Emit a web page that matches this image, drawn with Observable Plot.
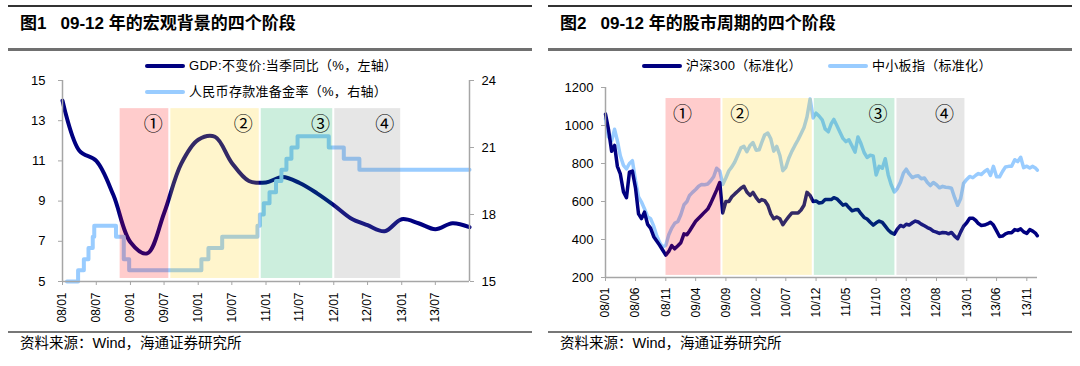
<!DOCTYPE html>
<html><head><meta charset="utf-8">
<script src="https://cdn.jsdelivr.net/npm/d3@7"></script>
<script src="https://cdn.jsdelivr.net/npm/@observablehq/plot@0.6"></script>
<style>
body{margin:0;width:1080px;height:366px;background:#fff;position:relative;overflow:hidden;font-family:"Liberation Sans","Noto Sans CJK SC",sans-serif;color:#000;}
.panel{position:absolute;top:0;width:540px;height:366px;}
.rule-top{position:absolute;left:8px;right:8px;top:5px;height:2px;background:#333;}
.title{position:absolute;left:20px;top:13px;font-weight:bold;font-size:17px;line-height:22px;white-space:nowrap;font-family:"Liberation Sans","Noto Sans CJK SC",sans-serif;}
.title .gap{display:inline-block;width:14px;}
.rule-mid{position:absolute;left:8px;right:8px;top:48px;height:3px;background:#707070;}
.chart{position:absolute;left:0;top:56px;}
.lg-line{position:absolute;width:40px;height:4px;border-radius:2px;}
.lg-text{position:absolute;font-size:13px;line-height:16px;white-space:nowrap;letter-spacing:0.3px;}
.rule-bot{position:absolute;left:8px;right:8px;top:331px;height:2px;background:#777;}
.source{position:absolute;left:20px;top:334px;font-size:14.5px;line-height:18px;white-space:nowrap;font-family:"Liberation Sans","Noto Sans CJK SC",sans-serif;}
</style>
</head><body>
<div class="panel" id="p1" style="left:0">
  <div class="rule-top"></div>
  <div class="title">图1<span class="gap"></span>09-12 年的宏观背景的四个阶段</div>
  <div class="rule-mid"></div>
  <div class="chart" id="c1"></div>
  <div class="lg-line" style="left:145px;top:64px;background:#000080"></div>
  <div class="lg-text" style="left:189px;top:58px">GDP:不变价:当季同比（%，左轴）</div>
  <div class="lg-line" style="left:145px;top:90px;background:#99ccff"></div>
  <div class="lg-text" style="left:189px;top:84px">人民币存款准备金率（%，右轴）</div>
  <div class="rule-bot"></div>
  <div class="source">资料来源：Wind，海通证券研究所</div>
</div>
<div class="panel" id="p2" style="left:540px">
  <div class="rule-top"></div>
  <div class="title">图2<span class="gap"></span>09-12 年的股市周期的四个阶段</div>
  <div class="rule-mid"></div>
  <div class="chart" id="c2"></div>
  <div class="lg-line" style="left:102px;top:64px;background:#000080"></div>
  <div class="lg-text" style="left:146px;top:58px">沪深300（标准化）</div>
  <div class="lg-line" style="left:288px;top:64px;background:#99ccff"></div>
  <div class="lg-text" style="left:332px;top:58px">中小板指（标准化）</div>
  <div class="rule-bot"></div>
  <div class="source">资料来源：Wind，海通证券研究所</div>
</div>
<script>
// ---------- Figure 1 data ----------
const gdpDates = ["2008-01-01","2008-04-01","2008-07-01","2008-10-01","2009-01-01","2009-04-01","2009-07-01","2009-10-01","2010-01-01","2010-04-01","2010-07-01","2010-10-01","2011-01-01","2011-04-01","2011-07-01","2011-10-01","2012-01-01","2012-04-01","2012-07-01","2012-10-01","2013-01-01","2013-04-01","2013-07-01","2013-10-01","2014-01-01"];
const gdpValues = [14.0,11.5,11.0,9.3,6.95,6.4,8.4,10.85,12.05,12.2,10.9,10.0,9.93,10.2,9.9,9.4,8.8,8.15,7.8,7.5,8.1,7.9,7.6,7.9,7.7];
const rrrDates = ["2008-01-25","2008-03-25","2008-04-25","2008-05-20","2008-06-12","2008-06-20","2008-10-15","2008-11-26","2008-12-25","2010-01-18","2010-02-25","2010-05-10","2010-11-16","2010-11-29","2010-12-20","2011-01-20","2011-02-24","2011-03-25","2011-04-21","2011-05-18","2011-06-20","2011-12-05","2012-02-24","2012-05-18","2014-01-01"];
const rrrValues = [15,15.5,16,16.5,17,17.5,17,16,15.5,16,16.5,17,17.5,18,18.5,19,19.5,20,20.5,21,21.5,21,20.5,20,20];
const leftXTicks = ["2008-01-01","2008-07-01","2009-01-01","2009-07-01","2010-01-01","2010-07-01","2011-01-01","2011-07-01","2012-01-01","2012-07-01","2013-01-01","2013-07-01"];
const leftYTicks = [5,7,9,11,13,15];
const rightAxisTicks = [15,18,21,24];
const leftPhaseBounds = ["2008-11-01","2009-08-01","2010-12-01","2012-01-01","2013-01-01"];
const leftLabelDates = ["2009-05-04","2010-09-01","2011-10-21","2012-10-01"];
const leftShade = [5.15, 13.6];
const leftLabelY = 12.8;

// ---------- Figure 2 data ----------
const stockDates = [
 "2008-01-01","2008-01-16","2008-02-01","2008-02-16","2008-03-01","2008-03-16","2008-04-01","2008-04-16","2008-05-01","2008-05-16","2008-06-01","2008-06-16","2008-07-01","2008-07-16","2008-08-01","2008-08-16","2008-09-01","2008-09-16","2008-10-01","2008-10-16","2008-11-01","2008-11-16","2008-12-01","2008-12-16",
 "2009-01-01","2009-01-16","2009-02-01","2009-02-16","2009-03-01","2009-03-16","2009-04-01","2009-04-16","2009-05-01","2009-05-16","2009-06-01","2009-06-16","2009-07-01","2009-07-16","2009-08-01","2009-08-16","2009-09-01","2009-09-16","2009-10-01","2009-10-16","2009-11-01","2009-11-16","2009-12-01","2009-12-16",
 "2010-01-01","2010-01-16","2010-02-01","2010-02-16","2010-03-01","2010-03-16","2010-04-01","2010-04-16","2010-05-01","2010-05-16","2010-06-01","2010-06-16","2010-07-01","2010-07-16","2010-08-01","2010-08-16","2010-09-01","2010-09-16","2010-10-01","2010-10-16","2010-11-01","2010-11-16","2010-12-01","2010-12-16",
 "2011-01-01","2011-01-16","2011-02-01","2011-02-16","2011-03-01","2011-03-16","2011-04-01","2011-04-16","2011-05-01","2011-05-16","2011-06-01","2011-06-16","2011-07-01","2011-07-16","2011-08-01","2011-08-16","2011-09-01","2011-09-16","2011-10-01","2011-10-16","2011-11-01","2011-11-16","2011-12-01","2011-12-16",
 "2012-01-01","2012-01-16","2012-02-01","2012-02-16","2012-03-01","2012-03-16","2012-04-01","2012-04-16","2012-05-01","2012-05-16","2012-06-01","2012-06-16","2012-07-01","2012-07-16","2012-08-01","2012-08-16","2012-09-01","2012-09-16","2012-10-01","2012-10-16","2012-11-01","2012-11-16","2012-12-01","2012-12-16",
 "2013-01-01","2013-01-16","2013-02-01","2013-02-16","2013-03-01","2013-03-16","2013-04-01","2013-04-16","2013-05-01","2013-05-16","2013-06-01","2013-06-16","2013-07-01","2013-07-16","2013-08-01","2013-08-16","2013-09-01","2013-09-16","2013-10-01","2013-10-16","2013-11-01","2013-11-16","2013-12-01","2013-12-16",
 "2013-12-24"];
const hs300Values = [
 1060,980,865,895,785,745,650,620,754,760,
 670,535,510,544,480,460,415,392,370,345,
 318,337,368,351,367,383,430,425,445,470,
 496,512,528,544,560,590,625,660,700,540,
 600,600,625,640,655,670,680,650,632,648,
 620,600,610,605,580,535,509,518,509,478,
 500,520,540,540,540,555,580,648,632,600,
 603,592,595,610,610,610,620,614,597,581,
 586,568,551,556,558,536,516,508,491,476,
 488,497,490,470,450,436,428,455,474,467,
 480,476,488,497,492,481,472,463,456,444,
 439,432,437,436,430,437,418,404,439,470,
 488,512,512,500,484,474,476,482,491,476,
 445,416,418,430,436,436,452,448,456,440,
 432,452,444,432,420];
const smeValues = [
 1035,940,920,980,920,840,790,772,800,815,
 710,625,597,562,520,510,470,420,385,360,
 370,425,460,485,495,530,583,600,632,648,
 663,680,690,688,692,709,730,775,760,690,
 725,762,782,808,846,882,890,862,895,910,
 870,872,910,950,960,930,865,890,842,762,
 780,828,865,895,925,957,990,1045,1140,1040,
 1065,1050,1030,982,967,1010,1032,1000,965,932,
 915,925,892,860,940,905,858,832,843,840,
 740,785,775,825,740,688,650,668,702,750,
 770,745,726,733,735,720,724,700,684,700,
 688,672,680,675,674,670,620,580,614,695,
 716,732,725,738,747,742,758,768,737,785,
 730,730,758,782,785,785,820,810,833,778,
 786,776,785,775,765];
const rightXTicks = ["2008-01-01","2008-06-01","2008-11-01","2009-04-01","2009-09-01","2010-02-01","2010-07-01","2010-12-01","2011-05-01","2011-10-01","2012-03-01","2012-08-01","2013-01-01","2013-06-01","2013-11-01"];
const rightYTicks = [200,400,600,800,1000,1200];
const rightPhaseBounds = ["2008-10-28","2009-08-12","2010-11-17","2012-01-09","2012-12-28"];
const rightLabelDates = ["2009-01-25","2009-11-10","2011-10-10","2012-09-10"];
const rightShade = [211, 1142];
const rightLabelY = 1058;

const phaseLabels = ["①","②","③","④"];
const phaseColors = ["#ff0000","#ffcc00","#00aa55","#808080"];

// ---------- build ----------
const parse = d3.utcParse("%Y-%m-%d");
const fmt = d3.utcFormat("%y/%m");
const toLeft = v => 5 + (v - 15) * 10 / 9;
const fromLeft = v => 15 + (v - 5) * 0.9;
const axisGray = "#a6a6a6";
const font = '"Liberation Sans", Arial, sans-serif';
const cjk = '"Noto Sans CJK SC", sans-serif';

function phases(bounds, labelDates, shade, labelY) {
  return phaseLabels.map((l, i) => ({
    start: parse(bounds[i]), end: parse(bounds[i + 1]),
    y1: shade[0], y2: shade[1], color: phaseColors[i],
    label: l, labelDate: parse(labelDates[i]), labelY
  }));
}

const gdp = gdpDates.map((d, i) => ({date: parse(d), v: gdpValues[i]}));
const rrr = rrrDates.map((d, i) => ({date: parse(d), v: toLeft(rrrValues[i])}));
const ph1 = phases(leftPhaseBounds, leftLabelDates, leftShade, leftLabelY);
const x1dom = [parse("2008-01-01"), parse("2014-01-01")];

const chart1 = Plot.plot({
  width: 540, height: 272,
  marginLeft: 62, marginRight: 71, marginTop: 24, marginBottom: 47,
  style: {fontFamily: font, fontSize: "13px", color: "#000", background: "transparent"},
  x: {type: "utc", domain: x1dom, label: null},
  y: {domain: [5, 15], label: null},
  color: {type: "identity"},
  marks: [
    Plot.line(gdp, {x: "date", y: "v", stroke: "#000080", strokeWidth: 4, curve: "catmull-rom"}),
    Plot.line(rrr, {x: "date", y: "v", stroke: "#99ccff", strokeWidth: 4, curve: "step-after"}),
    Plot.rect(ph1, {x1: "start", x2: "end", y1: "y1", y2: "y2", fill: "color", fillOpacity: 0.2, insetLeft: 1, insetRight: 1}),
    Plot.text(ph1, {x: "labelDate", y: "labelY", text: "label", fontSize: 19, fontFamily: cjk, fill: "#000"}),
    Plot.ruleX(x1dom, {stroke: axisGray, strokeWidth: 1.5}),
    Plot.ruleY([5], {stroke: axisGray, strokeWidth: 1.5}),
    Plot.axisY({ticks: leftYTicks, tickFormat: d => String(d), tickSize: 4, tickPadding: 13, stroke: axisGray, fill: "#000", fontSize: 13, label: null}),
    Plot.axisY({anchor: "right", ticks: rightAxisTicks.map(toLeft), tickFormat: v => String(Math.round(fromLeft(v))), tickSize: 4, tickPadding: 8, stroke: axisGray, fill: "#000", fontSize: 13, label: null}),
    Plot.axisX({ticks: leftXTicks.map(parse), tickFormat: fmt, tickRotate: -90, tickSize: 4, tickPadding: 7, stroke: axisGray, fill: "#000", fontSize: 12, label: null})
  ]
});
document.getElementById("c1").appendChild(chart1);

const hs300 = stockDates.map((d, i) => ({date: parse(d), v: hs300Values[i]}));
const sme = stockDates.map((d, i) => ({date: parse(d), v: smeValues[i]}));
const ph2 = phases(rightPhaseBounds, rightLabelDates, rightShade, rightLabelY);
const x2dom = [parse("2008-01-01"), parse("2013-12-25")];

const chart2 = Plot.plot({
  width: 540, height: 272,
  marginLeft: 65, marginRight: 43, marginTop: 31, marginBottom: 51,
  style: {fontFamily: font, fontSize: "13px", color: "#000", background: "transparent"},
  x: {type: "utc", domain: x2dom, label: null},
  y: {domain: [200, 1200], label: null},
  color: {type: "identity"},
  marks: [
    Plot.line(sme, {x: "date", y: "v", stroke: "#99ccff", strokeWidth: 3.5}),
    Plot.line(hs300, {x: "date", y: "v", stroke: "#000080", strokeWidth: 3.5}),
    Plot.rect(ph2, {x1: "start", x2: "end", y1: "y1", y2: "y2", fill: "color", fillOpacity: 0.2, insetLeft: 1, insetRight: 1}),
    Plot.text(ph2, {x: "labelDate", y: "labelY", text: "label", fontSize: 19, fontFamily: cjk, fill: "#000"}),
    Plot.ruleX([x2dom[0]], {stroke: axisGray, strokeWidth: 1.5}),
    Plot.ruleY([200], {stroke: axisGray, strokeWidth: 1.5}),
    Plot.axisY({ticks: rightYTicks, tickFormat: d => String(d), tickSize: 4, tickPadding: 8, stroke: axisGray, fill: "#000", fontSize: 13, label: null}),
    Plot.axisX({ticks: rightXTicks.map(parse), tickFormat: fmt, tickRotate: -90, tickSize: 4, tickPadding: 6, stroke: axisGray, fill: "#000", fontSize: 12, label: null})
  ]
});
document.getElementById("c2").appendChild(chart2);
</script>
</body></html>
